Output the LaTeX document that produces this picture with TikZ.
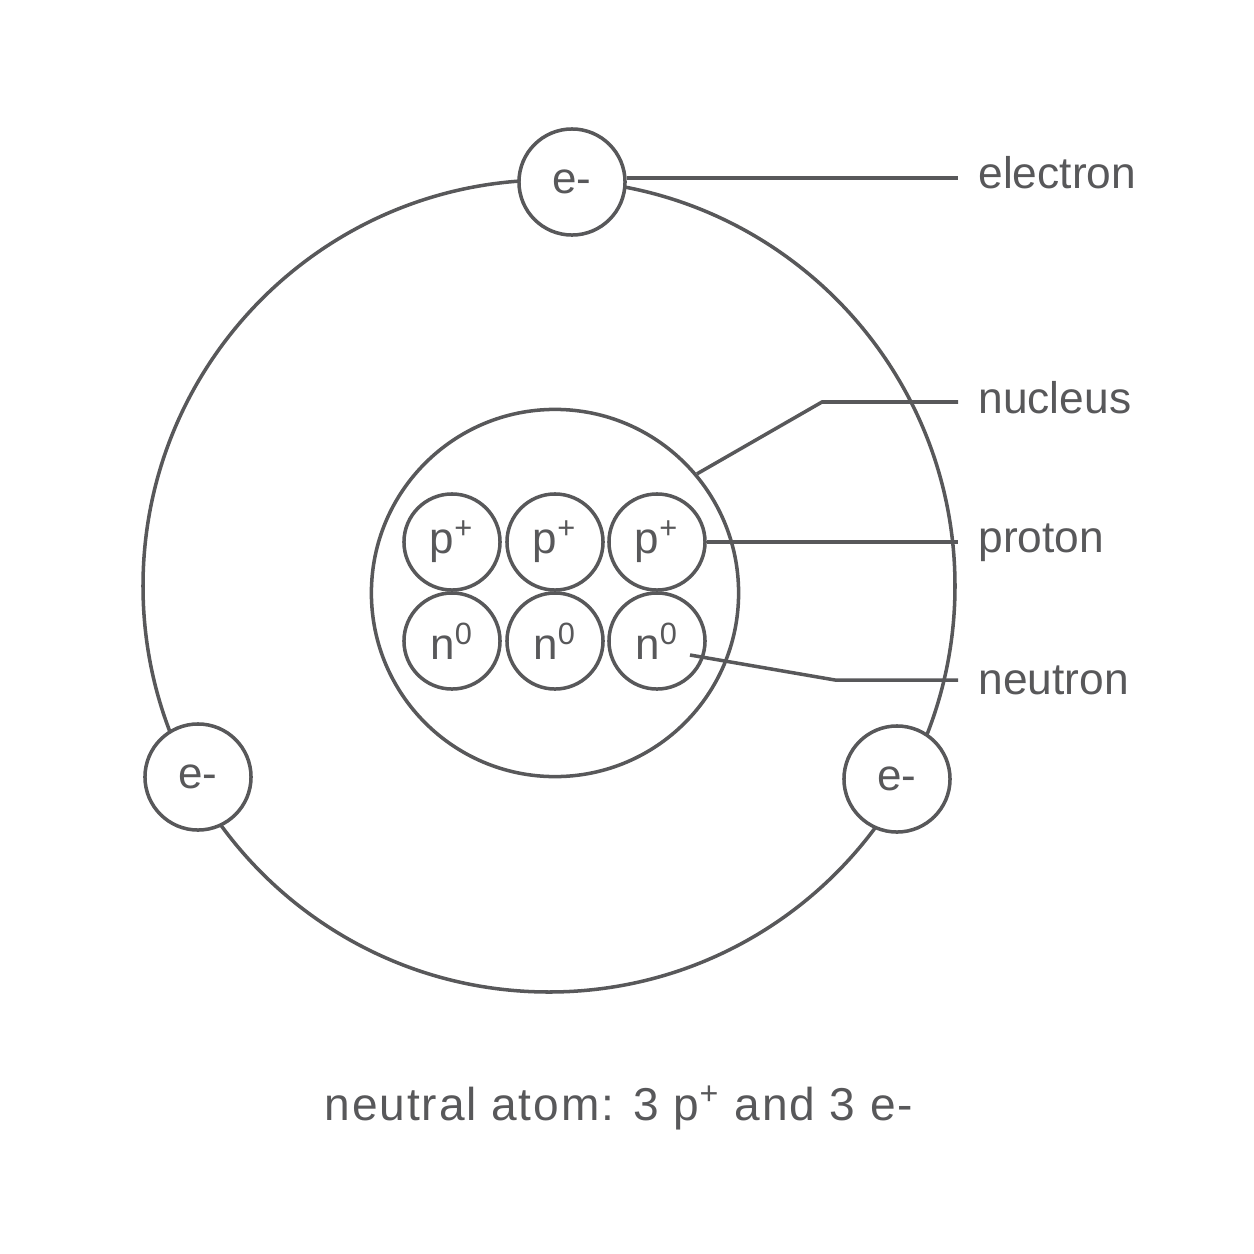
\documentclass[tikz,border=0pt]{standalone}
\usepackage{fontspec}
\setmainfont{Liberation Sans}
\newfontfamily\spaced[LetterSpace=4]{Liberation Sans}
\definecolor{ink}{HTML}{58585A}
\begin{document}
\begin{tikzpicture}[x=0.01cm,y=-0.01cm,line width=1pt,draw=ink,
    particle/.style={circle,draw=ink,fill=white,minimum size=0.96cm,inner sep=0pt,text=ink,font=\fontsize{12.5pt}{14pt}\selectfont},
    electron/.style={particle,minimum size=1.06cm},
    label/.style={anchor=west,text=ink,font=\fontsize{12.6pt}{14pt}\selectfont}]
    \useasboundingbox (0,0) rectangle (1254,1254);

    % orbit and nucleus
    \draw (549,586) circle (406);
    \node[circle,draw=ink,minimum size=3.67cm] (nucleus) at (555,593) {};

    % electrons
    \node[electron] (e1) at (572,182) {e-};
    \node[electron] (e2) at (198,777) {e-};
    \node[electron] (e3) at (897,779) {e-};

    % protons and neutrons
    \foreach \x [count=\i] in {452,555,657} {
        \node[particle] (p\i) at (\x,542) {p\textsuperscript{+}};
        \node[particle] (n\i) at (\x,641) {n\textsuperscript{0}};
    }

    % labels
    \node[label] (lelectron) at (965,173) {electron};
    \node[label] (lnucleus) at (965,398) {nucleus};
    \node[label] (lproton) at (965,543) {proton};
    \node[label] (lneutron) at (965,680) {neutron};

    \draw (e1.east |- 0,178) -- (958,178);
    \draw (nucleus.40) -- (822,402) -- (958,402);
    \draw (p3.east) -- (958,542);
    \draw (690,655) -- (835,680) -- (958,680);

    \node[text=ink,font=\spaced\fontsize{13.1pt}{15pt}\selectfont] (caption) at (619,1108)
        {neutral atom: 3 p\textsuperscript{+} and 3 e-};
\end{tikzpicture}
\end{document}
